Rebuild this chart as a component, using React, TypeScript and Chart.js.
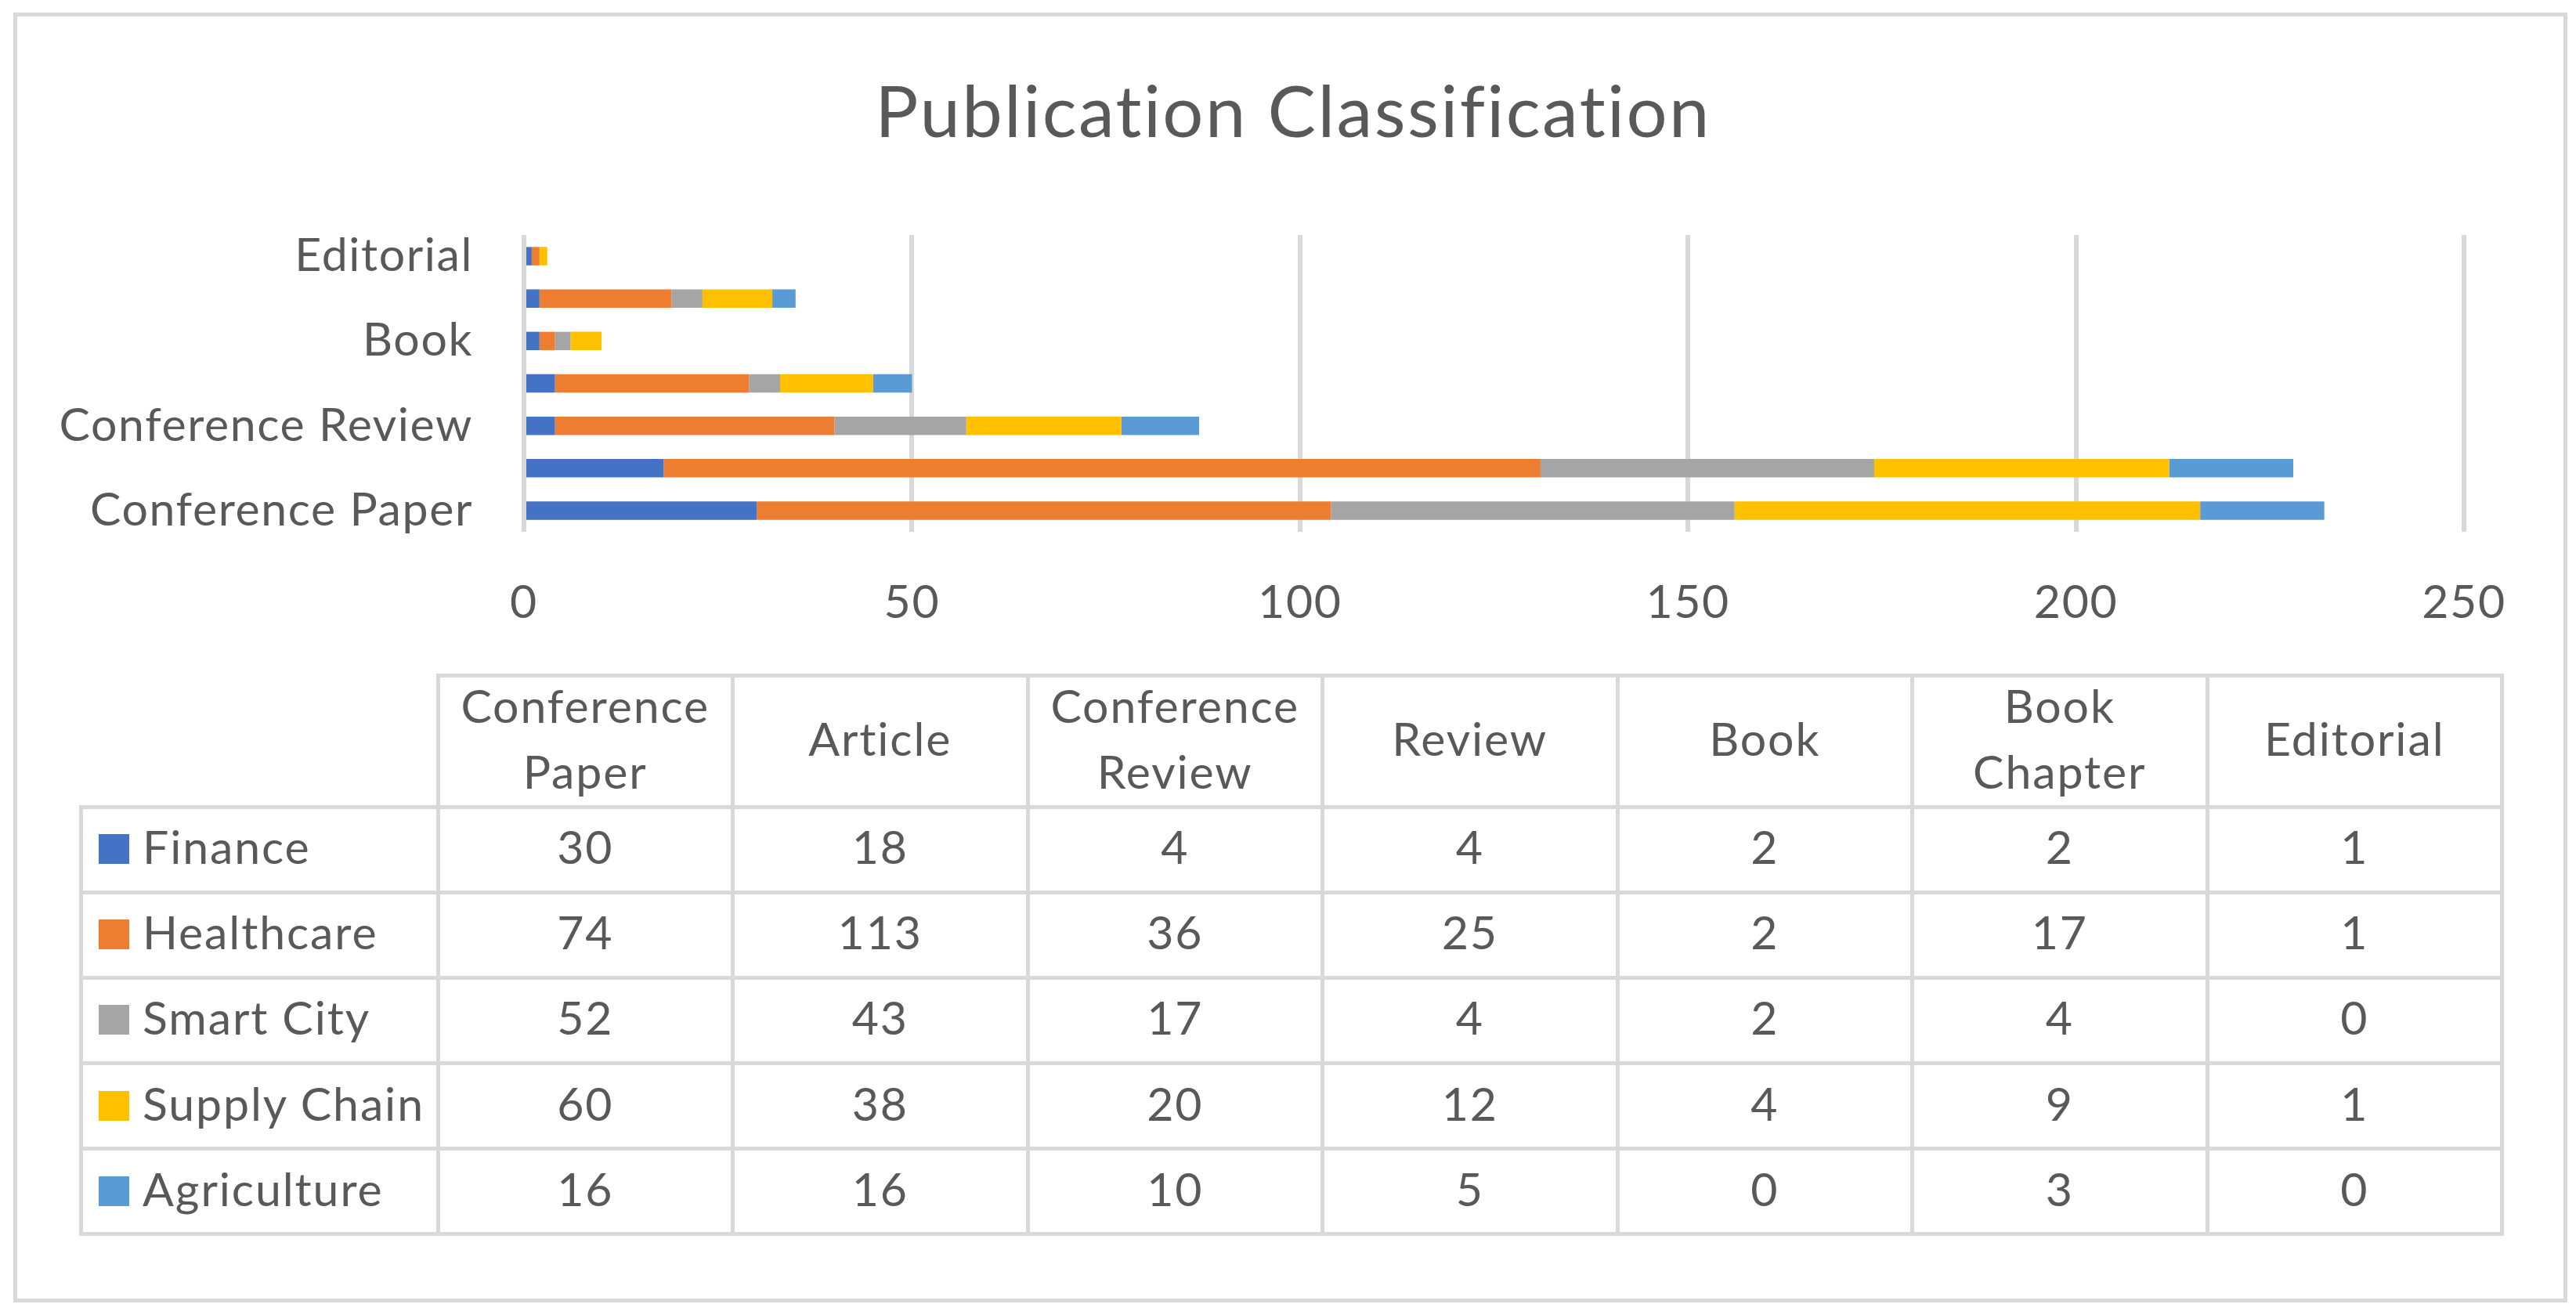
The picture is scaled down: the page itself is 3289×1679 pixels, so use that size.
import React, { useEffect, useRef } from 'react';
import { Chart, registerables } from 'chart.js';

Chart.register(...registerables);

const chartTitle = 'Publication Classification';
const categories = ['Conference Paper', 'Article', 'Conference Review', 'Review', 'Book', 'Book Chapter', 'Editorial'];
const tableHeaders = ['Conference\nPaper', 'Article', 'Conference\nReview', 'Review', 'Book', 'Book\nChapter', 'Editorial'];
const seriesNames = ['Finance', 'Healthcare', 'Smart City', 'Supply Chain', 'Agriculture'];
const finance = [30, 18, 4, 4, 2, 2, 1];
const healthcare = [74, 113, 36, 25, 2, 17, 1];
const smartCity = [52, 43, 17, 4, 2, 4, 0];
const supplyChain = [60, 38, 20, 12, 4, 9, 1];
const agriculture = [16, 16, 10, 5, 0, 3, 0];
const seriesValues = [finance, healthcare, smartCity, supplyChain, agriculture];
const seriesColors = ['#4472C4', '#ED7D31', '#A5A5A5', '#FFC000', '#5B9BD5'];
const xMin = 0;
const xMax = 250;
const xStep = 50;

const FONT = 'Lato, "Noto Sans", sans-serif';
const TEXT = '#595959';
const LINE = '#D9D9D9';

const W = 3289;
const H = 1679;
const CANVAS_H = 819;

// table geometry
const COL_X0 = 559;
const COL_W = 376.5;
const LEG_X = 103.5;
const HEAD_TOP = 862;
const HEAD_H = 168;
const ROW_H = 109.2;
const B = 5;

const titlePlugin = {
  id: 'customTitle',
  beforeDraw(chart: any) {
    chart.ctx.letterSpacing = '1.6px';
  },
  afterDraw(chart: any) {
    const ctx = chart.ctx;
    ctx.save();
    ctx.letterSpacing = '2.4px';
    ctx.font = `normal 92px ${FONT}`;
    ctx.fillStyle = TEXT;
    ctx.textAlign = 'center';
    ctx.textBaseline = 'alphabetic';
    ctx.fillText(chartTitle, 1651, 175);
    ctx.restore();
  },
};

function Cell(props: { x: number; y: number; w: number; h: number; children?: any; left?: boolean }) {
  const { x, y, w, h, children, left } = props;
  return (
    <div
      style={{
        position: 'absolute',
        left: x - B / 2,
        top: y - B / 2,
        width: w + B,
        height: h + B,
        border: `${B}px solid ${LINE}`,
        boxSizing: 'border-box',
        display: 'flex',
        alignItems: 'center',
        justifyContent: left ? 'flex-start' : 'center',
        paddingLeft: left ? 20 : 0,
        paddingBottom: 7,
        textAlign: 'center',
        whiteSpace: 'pre-line',
      }}
    >
      {children}
    </div>
  );
}

export default function App() {
  const ref = useRef<HTMLCanvasElement | null>(null);

  useEffect(() => {
    const canvas = ref.current;
    if (!canvas) return;
    const chart = new Chart(canvas, {
      type: 'bar',
      data: {
        labels: categories,
        datasets: seriesNames.map((name, i) => ({
          label: name,
          data: seriesValues[i],
          backgroundColor: seriesColors[i],
          borderWidth: 0,
          barPercentage: 0.434,
          categoryPercentage: 1,
        })),
      },
      options: {
        indexAxis: 'y',
        responsive: false,
        animation: false,
        devicePixelRatio: 1,
        layout: { padding: { left: 0, right: 143, top: 300, bottom: 0 } },
        plugins: {
          legend: { display: false },
          tooltip: { enabled: false },
          title: { display: false },
        },
        scales: {
          x: {
            stacked: true,
            min: xMin,
            max: xMax,
            ticks: {
              stepSize: xStep,
              color: TEXT,
              font: { family: FONT, size: 59 },
              padding: 56,
              maxRotation: 0,
            },
            grid: { color: LINE, lineWidth: 6, drawTicks: false },
            border: { display: false },
            afterFit: (s: any) => {
              s.height = 140;
            },
          },
          y: {
            stacked: true,
            reverse: true,
            ticks: {
              autoSkip: false,
              color: TEXT,
              font: { family: FONT, size: 59 },
              padding: 65,
              callback: (_v: any, i: number) => (i % 2 === 0 ? categories[i] : ''),
            },
            grid: { display: false, drawTicks: false },
            border: { display: false },
            afterFit: (s: any) => {
              s.width = 669;
            },
          },
        },
      } as any,
      plugins: [titlePlugin],
    });
    return () => chart.destroy();
  }, []);

  const bodyTop = HEAD_TOP + HEAD_H;

  return (
    <div
      style={{
        position: 'absolute',
        left: 0,
        top: 0,
        width: W,
        height: H,
        background: '#fff',
        overflow: 'hidden',
        fontFamily: FONT,
        fontSize: 59,
        lineHeight: '84px',
        letterSpacing: '1.9px',
        fontVariantLigatures: 'none',
        color: TEXT,
      }}
    >
      <div
        style={{
          position: 'absolute',
          left: 17,
          top: 16,
          width: 3261,
          height: 1647,
          border: `5px solid ${LINE}`,
          boxSizing: 'border-box',
        }}
      />
      <canvas
        ref={ref}
        width={W}
        height={CANVAS_H}
        style={{ position: 'absolute', left: 0, top: 0, width: W, height: CANVAS_H }}
      />
      {tableHeaders.map((h, c) => (
        <Cell key={'h' + c} x={COL_X0 + c * COL_W} y={HEAD_TOP} w={COL_W} h={HEAD_H}>
          {h}
        </Cell>
      ))}
      {seriesNames.map((name, r) => (
        <React.Fragment key={'r' + r}>
          <Cell x={LEG_X} y={bodyTop + r * ROW_H} w={COL_X0 - LEG_X} h={ROW_H} left>
            <span
              style={{
                display: 'inline-block',
                width: 39,
                height: 38,
                background: seriesColors[r],
                marginRight: 17,
                marginTop: 6,
                flex: '0 0 auto',
              }}
            />
            <span>{name}</span>
          </Cell>
          {seriesValues[r].map((v, c) => (
            <Cell key={'c' + r + '-' + c} x={COL_X0 + c * COL_W} y={bodyTop + r * ROW_H} w={COL_W} h={ROW_H}>
              {String(v)}
            </Cell>
          ))}
        </React.Fragment>
      ))}
    </div>
  );
}
